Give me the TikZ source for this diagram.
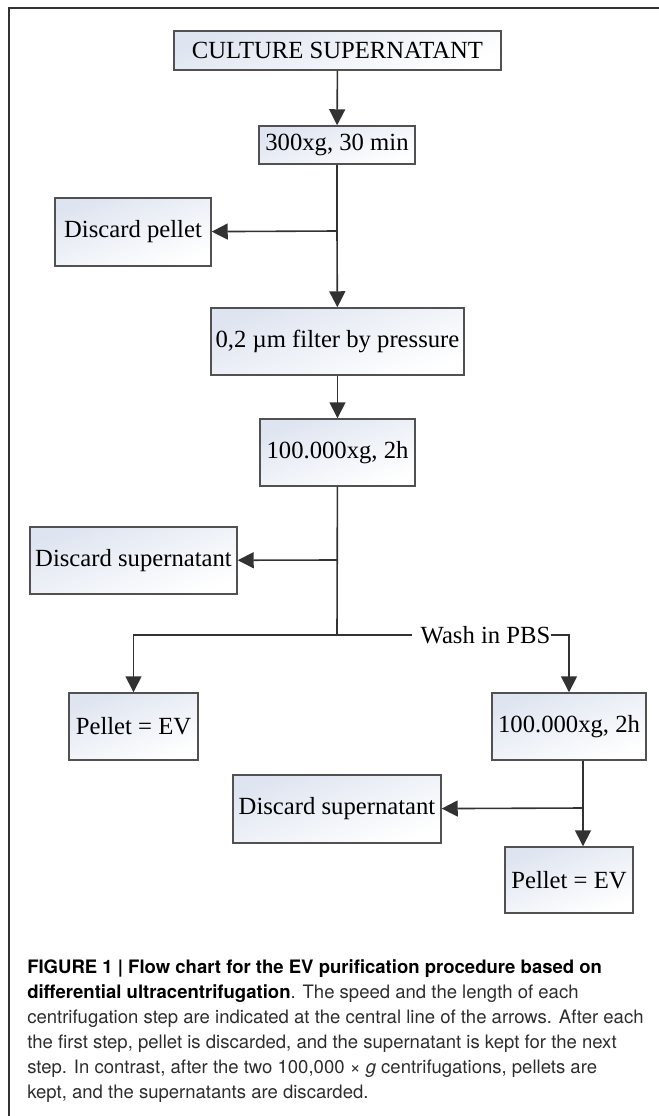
\documentclass[tikz,border=0pt]{standalone}
\usepackage{fontspec}
\setmainfont{Liberation Serif}
\newfontfamily\capfont{TeX Gyre Heros}
\usepackage{tikz}
\usetikzlibrary{arrows.meta}

\definecolor{boxtint}{RGB}{222,228,240}
\definecolor{linegray}{RGB}{50,50,50}
\definecolor{capgray}{RGB}{45,45,45}

\begin{document}
\begin{tikzpicture}[x=0.75pt,y=-0.75pt,
    stepbox/.style={draw=linegray!85, line width=1.1pt, rectangle, inner sep=0pt,
        top color=boxtint, bottom color=white, shading angle=20,
        font=\fontsize{18.5}{20}\selectfont},
    boxsize/.style 2 args={minimum width=#1*0.75pt, minimum height=#2*0.75pt},
    conn/.style={draw=linegray, line width=1.2pt},
    arr/.style={conn, -{Triangle[width=12pt,length=12pt]}},
    capline/.style={anchor=base west, inner sep=0pt, text=capgray,
        font=\capfont\fontsize{13.9}{16}\selectfont}]
        \useasboundingbox (0,0) rectangle (659,1116);

        %outer frame
        \draw[line width=0.9pt, linegray] (9,1120) -- (9,8) -- (663,8);

        %boxes
        \node[stepbox, boxsize={327}{39}] (cult) at (337.5,50.5) {CULTURE SUPERNATANT};
        \node[stepbox, boxsize={156}{38}] (spin1) at (337,145) {300xg, 30 min};
        \node[stepbox, boxsize={156}{68}] (pellet1) at (133,232) {Discard pellet};
        \node[stepbox, boxsize={253}{67}] (filter) at (337.5,341.5) {0,2 µm filter by pressure};
        \node[stepbox, boxsize={155}{67}] (spin2) at (337.5,452.5) {100.000xg, 2h};
        \node[stepbox, boxsize={207}{67}] (super1) at (133.5,560.5) {Discard supernatant};
        \node[stepbox, boxsize={129}{67}] (ev1) at (133.5,726.5) {Pellet = EV};
        \node[stepbox, boxsize={154}{67}] (spin3) at (569,726.5) {100.000xg, 2h};
        \node[stepbox, boxsize={208}{68}] (super2) at (337,809) {Discard supernatant};
        \node[stepbox, boxsize={128}{66}] (ev2) at (569,880) {Pellet = EV};

        %label on the wash line
        \node[inner sep=0pt, font=\fontsize{18.5}{20}\selectfont] (wash) at (485.5,635) {Wash in PBS};

        %junctions
        \coordinate (j1) at (337,231);
        \coordinate (j2) at (337,560);
        \coordinate (j3) at (337,635);
        \coordinate (j4) at (583,808);

        %arrows
        \draw[arr] (cult) -- (spin1);
        \draw[conn] (spin1) -- (j1);
        \draw[arr] (j1) -- (pellet1);
        \draw[arr] (j1) -- (filter);
        \draw[arr] (filter) -- (spin2);
        \draw[conn] (spin2) -- (j3);
        \draw[arr] (j2) -- (super1);
        \draw[arr] (j3) -| (ev1);
        \draw[conn] (j3) -- ([xshift=-6pt]wash.west);
        \draw[arr] (wash.east) -| (spin3);
        \draw[conn] (spin3.south -| j4) -- (j4);
        \draw[arr] (j4) -- (super2);
        \draw[arr] (j4) -- (ev2.north -| j4);

        %caption
        \node[capline, text=black] (cap1) at (27,973) {\bfseries FIGURE 1 | Flow chart for the EV purification procedure based on};
        \node[capline] (cap2) at (27,998) {\textcolor{black}{\bfseries differential ultracentrifugation}. The speed and the length of each};
        \node[capline] (cap3) at (27,1023) {centrifugation step are indicated at the central line of the arrows. After each};
        \node[capline] (cap4) at (27,1048) {the first step, pellet is discarded, and the supernatant is kept for the next};
        \node[capline] (cap5) at (27,1073) {step. In contrast, after the two 100,000 × \textit{g} centrifugations, pellets are};
        \node[capline] (cap6) at (27,1098) {kept, and the supernatants are discarded.};
    \end{tikzpicture}
\end{document}
